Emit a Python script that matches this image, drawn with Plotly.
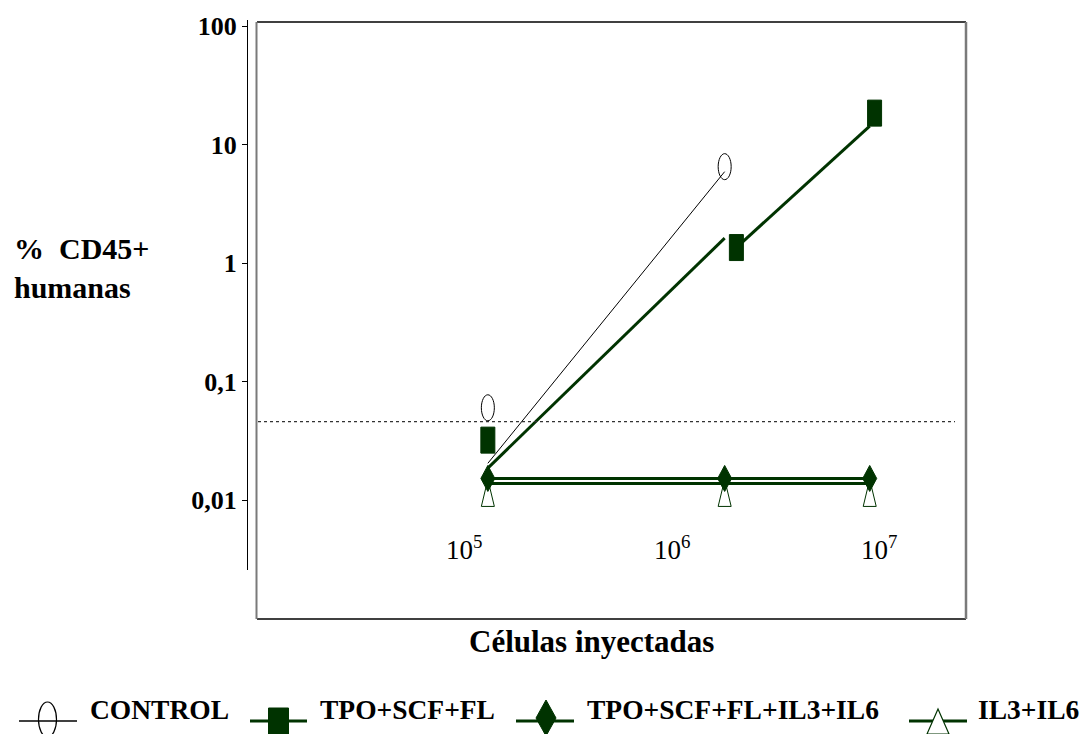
import numpy as np
import plotly.graph_objects as go

# ---- data: cells injected (x) vs % human CD45+ cells (y) ----
cells = [1.3e5, 1.8e6, 9.0e6]

control_x = [1.3e5, 1.8e6]
control_pts = [0.060, 6.5]
control_line = [0.0204, 5.9]

tpo_x = [1.3e5, 2.05e6, 9.5e6]
tpo_pts = [0.032, 1.35, 18.4]
tpo_line_x = [1.3e5, 1.8e6, None, 2.05e6, 9.0e6]
tpo_line = [0.0186, 1.62, None, 1.35, 14.3]

tpo_il_x = cells
tpo_il_pts = [0.0152, 0.0152, 0.0152]

il_x = cells
il_pts = [0.0138, 0.0138, 0.0138]

threshold = 0.0458

y_tickvals = [100, 10, 1, 0.1, 0.01]
y_ticktext = ["100", "10", "1", "0,1", "0,01"]
x_tickvals = [1e5, 1e6, 1e7]
x_ticktext = ["10<sup>5</sup>", "10<sup>6</sup>", "10<sup>7</sup>"]

series_names = ["CONTROL", "TPO+SCF+FL", "TPO+SCF+FL+IL3+IL6", "IL3+IL6"]

# ---- style ----
W, H = 1085, 734
L, R, T, B = 248, 120, 20, 164
PW, PH = W - L - R, H - T - B
GREEN = "#003300"
SERIF = "Liberation Serif"


def px(xp):
    return (xp - L) / PW


def py(yp):
    return (H - B - yp) / PH


def ellipse_path(rx, ry):
    k = 0.5523
    return (f"M {rx} 0 C {rx} {k*ry} {k*rx} {ry} 0 {ry} "
            f"C {-k*rx} {ry} {-rx} {k*ry} {-rx} 0 "
            f"C {-rx} {-k*ry} {-k*rx} {-ry} 0 {-ry} "
            f"C {k*rx} {-ry} {rx} {-k*ry} {rx} 0 Z")


def rect_path(hw, hh):
    return f"M {-hw} {-hh} L {hw} {-hh} L {hw} {hh} L {-hw} {hh} Z"


fig = go.Figure()

# connecting lines
fig.add_trace(go.Scatter(x=control_x, y=control_line, mode="lines",
                         line=dict(color="black", width=1), hoverinfo="skip"))
fig.add_trace(go.Scatter(x=tpo_line_x, y=tpo_line, mode="lines",
                         line=dict(color=GREEN, width=3), hoverinfo="skip"))
fig.add_trace(go.Scatter(x=tpo_il_x, y=tpo_il_pts, mode="lines",
                         line=dict(color=GREEN, width=3), hoverinfo="skip"))
fig.add_trace(go.Scatter(x=il_x, y=il_pts, mode="lines",
                         line=dict(color=GREEN, width=3), hoverinfo="skip"))

shapes = []

# frame around the plotting region
shapes += [
    dict(type="line", xref="paper", yref="paper", x0=px(257), x1=px(966), y0=py(22), y1=py(22),
         line=dict(color="black", width=1.5)),
    dict(type="line", xref="paper", yref="paper", x0=px(257), x1=px(966), y0=py(619), y1=py(619),
         line=dict(color="black", width=1.5)),
    dict(type="line", xref="paper", yref="paper", x0=px(256.5), x1=px(256.5), y0=py(22), y1=py(619),
         line=dict(color="#7a7a7a", width=2)),
    dict(type="line", xref="paper", yref="paper", x0=px(966), x1=px(966), y0=py(22), y1=py(619),
         line=dict(color="#7a7a7a", width=2.5)),
]

# detection threshold
shapes.append(dict(type="line", xref="paper", yref="y", x0=px(258), x1=px(955),
                   y0=threshold, y1=threshold,
                   line=dict(color="#333333", width=1.2, dash="dot")))


def anchored(x, y, path, **kw):
    d = dict(type="path", path=path, xref="x", yref="y", xsizemode="pixel", ysizemode="pixel",
             xanchor=x, yanchor=y, layer="above")
    d.update(kw)
    return d


# markers: IL3+IL6 triangles (behind), diamonds, squares, ellipses
for x, y in zip(il_x, il_pts):
    shapes.append(anchored(x, y, "M 0 4 L 6.5 -23 L -6.5 -23 Z",
                           fillcolor="white", line=dict(color=GREEN, width=1)))
for x, y in zip(tpo_il_x, tpo_il_pts):
    shapes.append(anchored(x, y, "M 0 13 L 7 0 L 0 -13 L -7 0 Z",
                           fillcolor=GREEN, line=dict(color=GREEN, width=1)))
for x, y in zip(tpo_x, tpo_pts):
    shapes.append(anchored(x, y, rect_path(7, 13),
                           fillcolor=GREEN, line=dict(color=GREEN, width=1)))
for x, y in zip(control_x, control_pts):
    shapes.append(anchored(x, y, ellipse_path(6.5, 13),
                           fillcolor="rgba(0,0,0,0)", line=dict(color="black", width=1)))

# ---- legend row ----
legend_items = [
    dict(line=(19, 77), cx=47.5, kind="ellipse", tx=88),
    dict(line=(250, 307), cx=278.5, kind="square", tx=318),
    dict(line=(516, 574), cx=546, kind="diamond", tx=585),
    dict(line=(909, 967), cx=938, kind="triangle", tx=976),
]
LY = 721
annotations = []
for item, name in zip(legend_items, series_names):
    col = "black" if item["kind"] == "ellipse" else GREEN
    lw = 1.5 if item["kind"] == "ellipse" else 3
    shapes.append(dict(type="line", xref="paper", yref="paper",
                       x0=px(item["line"][0]), x1=px(item["line"][1]), y0=py(LY), y1=py(LY),
                       line=dict(color=col, width=lw)))
    cx = item["cx"]
    if item["kind"] == "ellipse":
        shapes.append(dict(type="circle", xref="paper", yref="paper",
                           x0=px(cx - 9), x1=px(cx + 9), y0=py(702), y1=py(737),
                           line=dict(color="black", width=1.2), fillcolor="rgba(0,0,0,0)"))
    elif item["kind"] == "square":
        shapes.append(dict(type="rect", xref="paper", yref="paper",
                           x0=px(cx - 10), x1=px(cx + 10), y0=py(708), y1=py(738),
                           line=dict(color=GREEN, width=1), fillcolor=GREEN))
    elif item["kind"] == "diamond":
        shapes.append(dict(type="path", xref="paper", yref="paper",
                           path=f"M {px(cx)} {py(700)} L {px(cx + 10)} {py(718)} "
                                f"L {px(cx)} {py(736)} L {px(cx - 10)} {py(718)} Z",
                           line=dict(color=GREEN, width=1), fillcolor=GREEN))
    else:
        shapes.append(dict(type="path", xref="paper", yref="paper",
                           path=f"M {px(cx)} {py(709)} L {px(cx + 11)} {py(734)} "
                                f"L {px(cx - 11)} {py(734)} Z",
                           line=dict(color=GREEN, width=1.2), fillcolor="white"))
    annotations.append(dict(text=name, xref="paper", yref="paper", x=px(item["tx"]), y=py(709),
                            xanchor="left", yanchor="middle", showarrow=False,
                            font=dict(family=SERIF, size=27.5, color="black", weight="bold")))

# x tick labels inside the frame
for v, t in zip(x_tickvals, x_ticktext):
    annotations.append(dict(text=t, xref="x", yref="paper", x=np.log10(v), y=py(548),
                            xanchor="center", yanchor="middle", showarrow=False,
                            font=dict(family=SERIF, size=27, color="black")))

# axis titles
annotations.append(dict(text="Células inyectadas", xref="paper", yref="paper",
                        x=px(591), y=py(641), xanchor="center", yanchor="middle",
                        showarrow=False,
                        font=dict(family=SERIF, size=31, color="black", weight="bold")))
annotations.append(dict(text="%\u00a0\u00a0CD45+<br>humanas", xref="paper", yref="paper",
                        x=px(12), y=py(268), xanchor="left", yanchor="middle", align="left",
                        showarrow=False,
                        font=dict(family=SERIF, size=30, color="black", weight="bold")))

fig.update_layout(
    width=W, height=H,
    margin=dict(l=L, r=R, t=T, b=B),
    paper_bgcolor="white", plot_bgcolor="white",
    showlegend=False,
    shapes=shapes,
    annotations=annotations,
    xaxis=dict(type="log", range=[3.958, 7.4135], visible=False, showgrid=False,
               zeroline=False),
    yaxis=dict(type="log", range=[-2.5907, 2.0506], showgrid=False, zeroline=False,
               showline=True, linecolor="black", linewidth=1,
               ticks="outside", ticklen=5, tickwidth=1, tickcolor="black",
               tickvals=y_tickvals, ticktext=y_ticktext,
               tickfont=dict(family=SERIF, size=26, color="black", weight="bold")),
)

fig.write_html("out.html")
